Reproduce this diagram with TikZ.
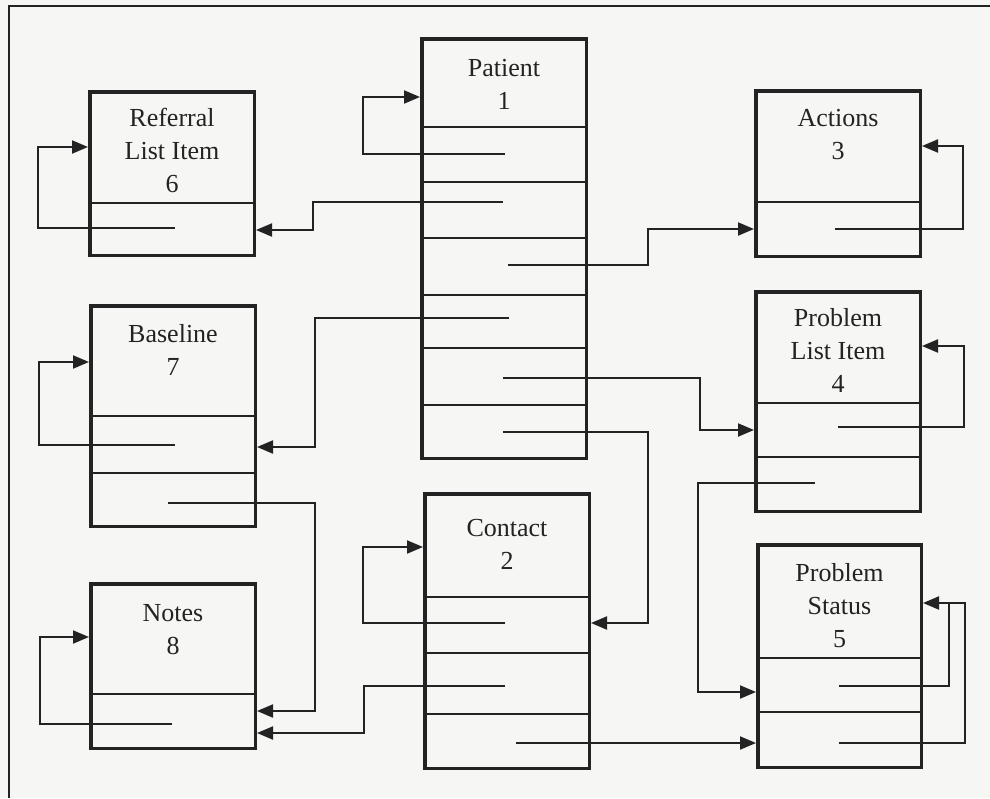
\documentclass[tikz,border=0pt]{standalone}
\usepackage{fontspec}
\setmainfont{Liberation Serif}
\usepackage{tikz}
\usepackage{xcolor}
\usetikzlibrary{arrows.meta, positioning}
\definecolor{ink}{RGB}{35,35,35}
\definecolor{paper}{RGB}{246,246,244}

\tikzset{
    table/.style={draw=ink, line width=3.5pt, anchor=north west, minimum width=164.5pt, inner sep=0pt},
    title/.style={align=center, text=ink, font=\fontsize{26}{33}\selectfont, inner sep=2pt},
    field/.style={draw=ink, line width=2.2pt},
    link/.style={draw=ink, line width=2pt, -{Triangle[length=16pt,width=13pt]}},
    frame/.style={draw=ink, line width=2.5pt}
}

\begin{document}
\begin{tikzpicture}[x=1pt, y=-1pt]
    \fill[paper] (0,0) rectangle (990,798);
    \useasboundingbox (0,0) rectangle (990,798);
    \draw[frame] (990,6) -- (9,6) -- (9,798);

    % tables
    \node[table, minimum height=419.5pt] (patient) at (420,37) {};
    \node[table, minimum height=274.5pt] (contact) at (423,492) {};
    \node[table, minimum height=165.5pt] (actions) at (754,89) {};
    \node[table, minimum height=219.5pt] (problist) at (754,290) {};
    \node[table, minimum height=222.5pt, minimum width=163.5pt] (probstatus) at (756,543) {};
    \node[table, minimum height=163.5pt] (referral) at (88,90) {};
    \node[table, minimum height=220.5pt] (baseline) at (89,304) {};
    \node[table, minimum height=164.5pt] (notes) at (89,582) {};

    \node[title, below=20pt of patient.north] (patienttitle) {Patient\\1};
    \node[title, below=25pt of contact.north] (contacttitle) {Contact\\2};
    \node[title, below=18pt of actions.north] (actionstitle) {Actions\\3};
    \node[title, below=16pt of problist.north] (problisttitle) {Problem\\List Item\\4};
    \node[title, below=18pt of probstatus.north] (probstatustitle) {Problem\\Status\\5};
    \node[title, below=16pt of referral.north] (referraltitle) {Referral\\List Item\\6};
    \node[title, below=18pt of baseline.north] (baselinetitle) {Baseline\\7};
    \node[title, below=20pt of notes.north] (notestitle) {Notes\\8};

    % field lines
    \foreach \y in {127,182,238,295,348,405}
        \draw[field] (patient.west |- 0,\y) -- (patient.east |- 0,\y);
    \foreach \y in {597,653,714}
        \draw[field] (contact.west |- 0,\y) -- (contact.east |- 0,\y);
    \foreach \y in {403,457}
        \draw[field] (problist.west |- 0,\y) -- (problist.east |- 0,\y);
    \foreach \y in {658,712}
        \draw[field] (probstatus.west |- 0,\y) -- (probstatus.east |- 0,\y);
    \foreach \y in {416,473}
        \draw[field] (baseline.west |- 0,\y) -- (baseline.east |- 0,\y);
    \draw[field] (actions.west |- 0,202) -- (actions.east |- 0,202);
    \draw[field] (referral.west |- 0,203) -- (referral.east |- 0,203);
    \draw[field] (notes.west |- 0,694) -- (notes.east |- 0,694);

    % pointer starts
    \coordinate (pa1) at (505,154);
    \coordinate (pa2) at (503,202);
    \coordinate (pa3) at (508,265);
    \coordinate (pa4) at (509,318);
    \coordinate (pa5) at (503,378);
    \coordinate (pa6) at (503,432);
    \coordinate (co1) at (505,623);
    \coordinate (co2) at (505,686);
    \coordinate (co3) at (516,743);
    \coordinate (ac1) at (835,229);
    \coordinate (pl1) at (838,427);
    \coordinate (pl2) at (815,483);
    \coordinate (st1) at (839,686);
    \coordinate (st2) at (839,743);
    \coordinate (stjoin) at (949,603);
    \coordinate (re1) at (175,228);
    \coordinate (ba1) at (175,445);
    \coordinate (ba2) at (168,503);
    \coordinate (no1) at (172,724);

    % Patient
    \draw[link] (pa1) -| (363,97) -- (patient.west |- 0,97);
    \draw[link] (pa2) -- (313,202) |- (referral.east |- 0,230);
    \draw[link] (pa3) -| (648,229) -- (actions.west |- 0,229);
    \draw[link] (pa4) -| (315,447) -- (baseline.east |- 0,447);
    \draw[link] (pa5) -| (700,430) -- (problist.west |- 0,430);
    \draw[link] (pa6) -| (648,623) -- (contact.east |- 0,623);

    % Contact
    \draw[link] (co1) -| (363,547) -- (contact.west |- 0,547);
    \draw[link] (co2) -| (364,733) -- (notes.east |- 0,733);
    \draw[link] (co3) -- (probstatus.west |- co3);

    % right column
    \draw[link] (ac1) -| (963,146) -- (actions.east |- 0,146);
    \draw[link] (pl1) -| (964,346) -- (problist.east |- 0,346);
    \draw[link] (pl2) -| (698,692) -- (probstatus.west |- 0,692);
    \draw[link] (st1) -| (stjoin) -- (probstatus.east |- stjoin);
    \draw[field, line width=2pt] (st2) -| (965,603) -- (stjoin);

    % left column
    \draw[link] (re1) -| (38,147) -- (referral.west |- 0,147);
    \draw[link] (ba1) -| (39,362) -- (baseline.west |- 0,362);
    \draw[link] (ba2) -| (315,711) -- (notes.east |- 0,711);
    \draw[link] (no1) -| (40,637) -- (notes.west |- 0,637);
\end{tikzpicture}
\end{document}
